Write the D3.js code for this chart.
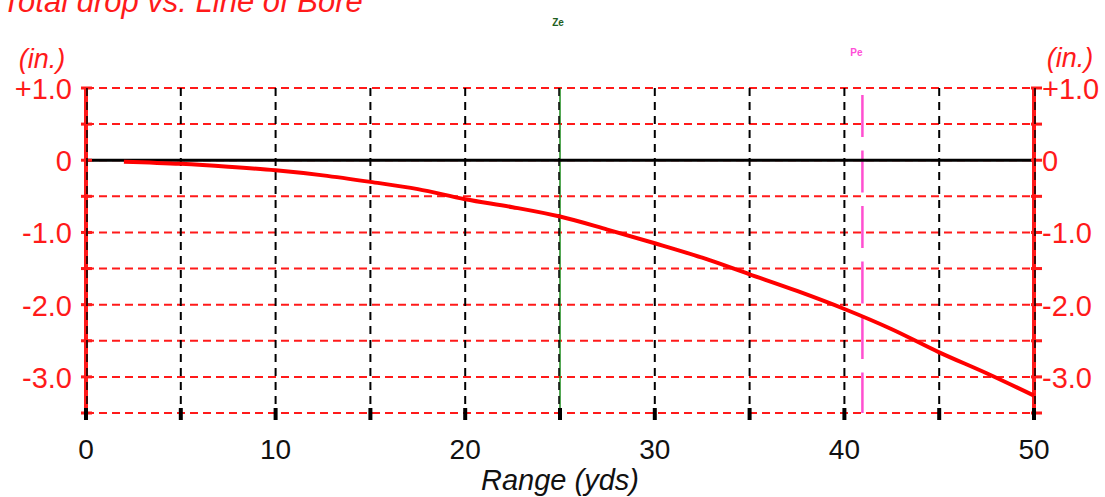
<!DOCTYPE html>
<html><head><meta charset="utf-8">
<script src="https://cdn.jsdelivr.net/npm/d3@7"></script>
<style>body{margin:0;background:#fff;}svg{display:block;font-family:"Liberation Sans",Arial,sans-serif;}</style>
</head><body>
<svg id="c" width="1105" height="497"></svg>
<script>
const rangeYds = [2, 5, 7.5, 10, 12.5, 15, 17.5, 20, 22.5, 25, 27.5, 30, 32.5, 35, 37.5, 40, 42.5, 45, 47.5, 50];
const dropIn   = [-0.02, -0.05, -0.09, -0.14, -0.21, -0.30, -0.40, -0.54, -0.65, -0.78, -0.96, -1.15, -1.35, -1.58, -1.81, -2.06, -2.34, -2.66, -2.95, -3.26];
const xTickLabels = [0, 10, 20, 30, 40, 50];
const xGrid = [0, 5, 10, 15, 20, 25, 30, 35, 40, 45, 50];
const yTickLabels = [1, 0, -1, -2, -3];
const yGrid = [1, 0.5, 0, -0.5, -1, -1.5, -2, -2.5, -3, -3.5];
const markerNames = ["Ze", "Pe"];
const markerRange = [25, 40.95];

const svg = d3.select("#c");
const x = d3.scaleLinear().domain([0, 50]).range([86, 1034]);
const y = d3.scaleLinear().domain([1, -3.5]).range([88, 413]);
const RED = "#ff1a1a";

// title
svg.append("text").attr("x", 2).attr("y", 12).attr("font-size", 31).attr("font-style", "italic")
  .attr("fill", RED).text("Total drop vs. Line of Bore");

// horizontal red dashed grid
svg.append("g").selectAll("line").data(yGrid).join("line")
  .attr("x1", x(0)).attr("x2", x(50)).attr("y1", d => y(d)).attr("y2", d => y(d))
  .attr("stroke", RED).attr("stroke-width", 2).attr("stroke-dasharray", "8,5");

// marker lines
svg.append("line").attr("x1", x(markerRange[0])).attr("x2", x(markerRange[0]))
  .attr("y1", y(1)).attr("y2", y(-3.5)).attr("stroke", "#1a8a1a").attr("stroke-width", 1.5);
svg.append("line").attr("x1", x(markerRange[1])).attr("x2", x(markerRange[1]))
  .attr("y1", y(1) + 7).attr("y2", y(-3.5)).attr("stroke", "#ff4fd0").attr("stroke-width", 2.5)
  .attr("stroke-dasharray", "42,13.5");

// vertical black dashed grid
svg.append("g").selectAll("line").data(xGrid).join("line")
  .attr("x1", d => x(d) - (d === 25 ? 1 : 0)).attr("x2", d => x(d) - (d === 25 ? 1 : 0))
  .attr("y1", y(1)).attr("y2", y(-3.5))
  .attr("stroke", "#000").attr("stroke-width", d => d === 25 ? 1.5 : 2).attr("stroke-dasharray", "8,6");

// zero line
svg.append("line").attr("x1", x(0)).attr("x2", x(50)).attr("y1", y(0)).attr("y2", y(0))
  .attr("stroke", "#000").attr("stroke-width", 3);

// red axes
[0, 50].forEach(v => {
  svg.append("line").attr("x1", x(v)).attr("x2", x(v)).attr("y1", y(1) - 1).attr("y2", y(-3.5) + 1)
    .attr("stroke", RED).attr("stroke-width", 4);
});
// left axis ticks
svg.append("g").selectAll("line").data(yGrid).join("line")
  .attr("x1", x(0) - 5).attr("x2", x(0) + 6).attr("y1", d => y(d)).attr("y2", d => y(d))
  .attr("stroke", RED).attr("stroke-width", 3);
// right axis ticks
svg.append("g").selectAll("line").data(yGrid).join("line")
  .attr("x1", x(50) - 3).attr("x2", x(50) + 8).attr("y1", d => y(d)).attr("y2", d => y(d))
  .attr("stroke", RED).attr("stroke-width", 3);
// black overlay dashes on axes
[0, 50].forEach(v => {
  svg.append("line").attr("x1", x(v) + 1).attr("x2", x(v) + 1).attr("y1", y(1)).attr("y2", y(-3.5))
    .attr("stroke", "#000").attr("stroke-width", 1.5).attr("stroke-dasharray", "8,6");
});
// bottom ticks
svg.append("g").selectAll("line").data(xGrid).join("line")
  .attr("x1", d => x(d)).attr("x2", d => x(d)).attr("y1", y(-3.5) - 5).attr("y2", y(-3.5) + 7)
  .attr("stroke", "#000").attr("stroke-width", 4);

// curve
svg.append("path").datum(rangeYds.map((r, i) => [r, dropIn[i]]))
  .attr("d", d3.line().x(d => x(d[0])).y(d => y(d[1])).curve(d3.curveMonotoneX))
  .attr("fill", "none").attr("stroke", "#ff0000").attr("stroke-width", 4);

// y labels
const fmt = d => d === 0 ? "0" : (d > 0 ? "+" : "-") + Math.abs(d).toFixed(1);
svg.append("g").selectAll("text").data(yTickLabels).join("text")
  .attr("x", 72).attr("y", d => y(d) + 11).attr("text-anchor", "end")
  .attr("font-size", 29).attr("fill", RED).text(fmt);
svg.append("g").selectAll("text").data(yTickLabels).join("text")
  .attr("x", 1042).attr("y", d => y(d) + 11).attr("text-anchor", "start")
  .attr("font-size", 29).attr("fill", RED).text(fmt);
svg.append("text").attr("x", 42).attr("y", 68).attr("text-anchor", "middle").attr("font-size", 27)
  .attr("font-style", "italic").attr("fill", RED).text("(in.)");
svg.append("text").attr("x", 1070).attr("y", 67).attr("text-anchor", "middle").attr("font-size", 27)
  .attr("font-style", "italic").attr("fill", RED).text("(in.)");

// x labels
svg.append("g").selectAll("text").data(xTickLabels).join("text")
  .attr("x", d => x(d)).attr("y", 459).attr("text-anchor", "middle")
  .attr("font-size", 28).attr("fill", "#111").text(d => d);
svg.append("text").attr("x", x(25)).attr("y", 490).attr("text-anchor", "middle").attr("font-size", 29)
  .attr("font-style", "italic").attr("fill", "#111").text("Range (yds)");

// marker labels
svg.append("text").attr("x", x(markerRange[0]) - 2).attr("y", 26).attr("text-anchor", "middle")
  .attr("font-size", 10).attr("font-weight", "bold").attr("fill", "#1f5f1f").text(markerNames[0]);
svg.append("text").attr("x", x(markerRange[1]) - 6).attr("y", 56).attr("text-anchor", "middle")
  .attr("font-size", 10).attr("font-weight", "bold").attr("fill", "#ff4fd8").text(markerNames[1]);
</script>
</body></html>
